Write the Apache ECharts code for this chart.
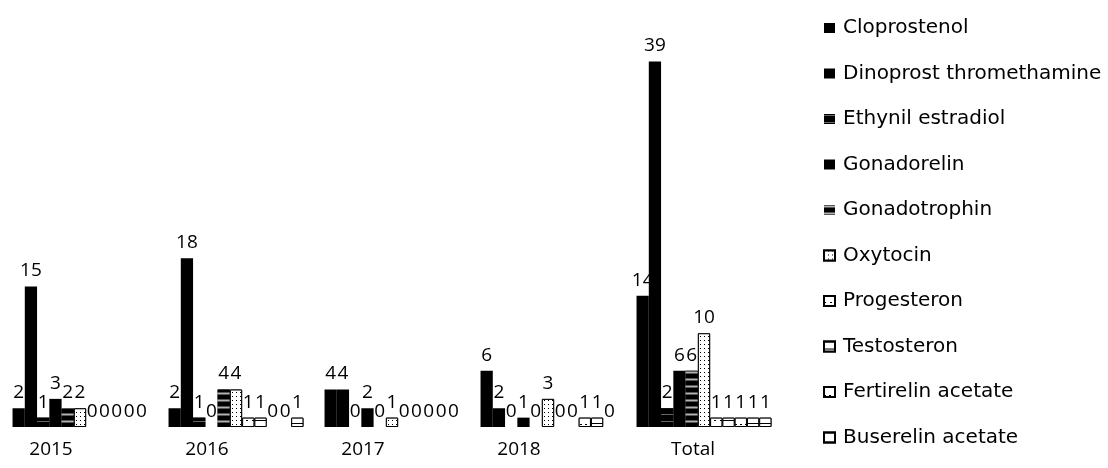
<!DOCTYPE html>
<html>
<head>
<meta charset="utf-8">
<script src="https://cdn.jsdelivr.net/npm/echarts@6/dist/echarts.min.js"></script>
<style>
  html, body { margin: 0; padding: 0; background: #fff; }
  #chart { width: 1108px; height: 468px; }
</style>
</head>
<body>
<div id="chart"></div>
<script>
const categories = ["2015", "2016", "2017", "2018", "Total"];

const cloprostenol = [2, 2, 4, 6, 14];
const dinoprost = [15, 18, 4, 2, 39];
const ethynil = [1, 1, 0, 0, 2];
const gonadorelin = [3, 0, 2, 1, 6];
const gonadotrophin = [2, 4, 0, 0, 6];
const oxytocin = [2, 4, 1, 3, 10];
const progesteron = [0, 1, 0, 0, 1];
const testosteron = [0, 1, 0, 0, 1];
const fertirelin = [0, 0, 0, 1, 1];
const buserelin = [0, 0, 0, 1, 1];
// 11th series: its legend entry is cut off at the bottom of the picture
const hiddenSeries = [0, 1, 0, 0, 1];

const legendNames = [
  "Cloprostenol",
  "Dinoprost thromethamine",
  "Ethynil estradiol",
  "Gonadorelin",
  "Gonadotrophin",
  "Oxytocin",
  "Progesteron",
  "Testosteron",
  "Fertirelin acetate",
  "Buserelin acetate",
];

const font = "'Open Sans', sans-serif";

const solid = { color: "#000" };
const specks = (bg, fg, size) => ({
  color: bg,
  decal: {
    symbol: "rect",
    symbolSize: size,
    color: fg,
    dashArrayX: [1, 0],
    dashArrayY: [3, 4],
    backgroundColor: bg,
  },
});
const lines = (dashX, dashY) => ({
  color: "#fff",
  borderColor: "#000",
  borderWidth: 1,
  decal: {
    symbol: "rect",
    symbolSize: 1,
    color: "#000",
    dashArrayX: dashX,
    dashArrayY: dashY,
    backgroundColor: "#fff",
  },
});

const styles = [
  solid,
  solid,
  specks("#000", "#fff", 0.4),
  solid,
  specks("#000", "#fff", 0.7),
  lines([1, 3], [1, 3]),
  lines([2, 4], [1, 5]),
  lines([6, 0], [1, 6]),
  lines([2, 3], [1, 7]),
  lines([6, 0], [1, 8]),
  lines([6, 0], [1, 8]),
];

const allData = [
  cloprostenol, dinoprost, ethynil, gonadorelin, gonadotrophin,
  oxytocin, progesteron, testosteron, fertirelin, buserelin, hiddenSeries,
];
const allNames = legendNames.concat(["Other"]);

// zero-height bars get no outline, so no stray line on the baseline
const toItems = (d) =>
  d.map((v) => (v === 0 ? { value: 0, itemStyle: { borderWidth: 0 } } : v));

const chart = echarts.init(document.getElementById("chart"));
chart.setOption({
  animation: false,
  grid: { left: 2, right: 326, top: 52, bottom: 41 },
  legend: {
    data: legendNames,
    orient: "vertical",
    left: 823,
    top: 18,
    padding: 0,
    itemWidth: 11,
    itemHeight: 10,
    itemGap: 25.5,
    icon: "rect",
    textStyle: {
      fontFamily: "'DejaVu Sans', sans-serif",
      fontSize: 20,
      color: "#000",
      lineHeight: 20,
      padding: [0, 0, 0, 3],
    },
  },
  xAxis: {
    type: "category",
    data: categories,
    axisLine: { show: false },
    axisTick: { show: false },
    axisLabel: {
      margin: 13,
      formatter: (v) => (v === "Total" ? "{t|" + v + "}" : "{y|" + v + "}"),
      rich: {
        y: { fontFamily: font, fontSize: 19, color: "#000", padding: [0, 58, 0, 0] },
        t: { fontFamily: font, fontSize: 19, color: "#000", padding: [0, 22, 0, 0] },
      },
    },
  },
  yAxis: {
    type: "value",
    min: 0,
    max: 40,
    show: false,
    splitLine: { show: false },
  },
  series: allData.map((d, i) => ({
    name: allNames[i],
    type: "bar",
    data: toItems(d),
    barGap: "0%",
    barCategoryGap: "13.5%",
    itemStyle: styles[i],
    label: {
      show: true,
      position: "top",
      distance: 6,
      fontFamily: font,
      fontSize: 19,
      color: "#000",
    },
  })),
});
</script>
</body>
</html>
